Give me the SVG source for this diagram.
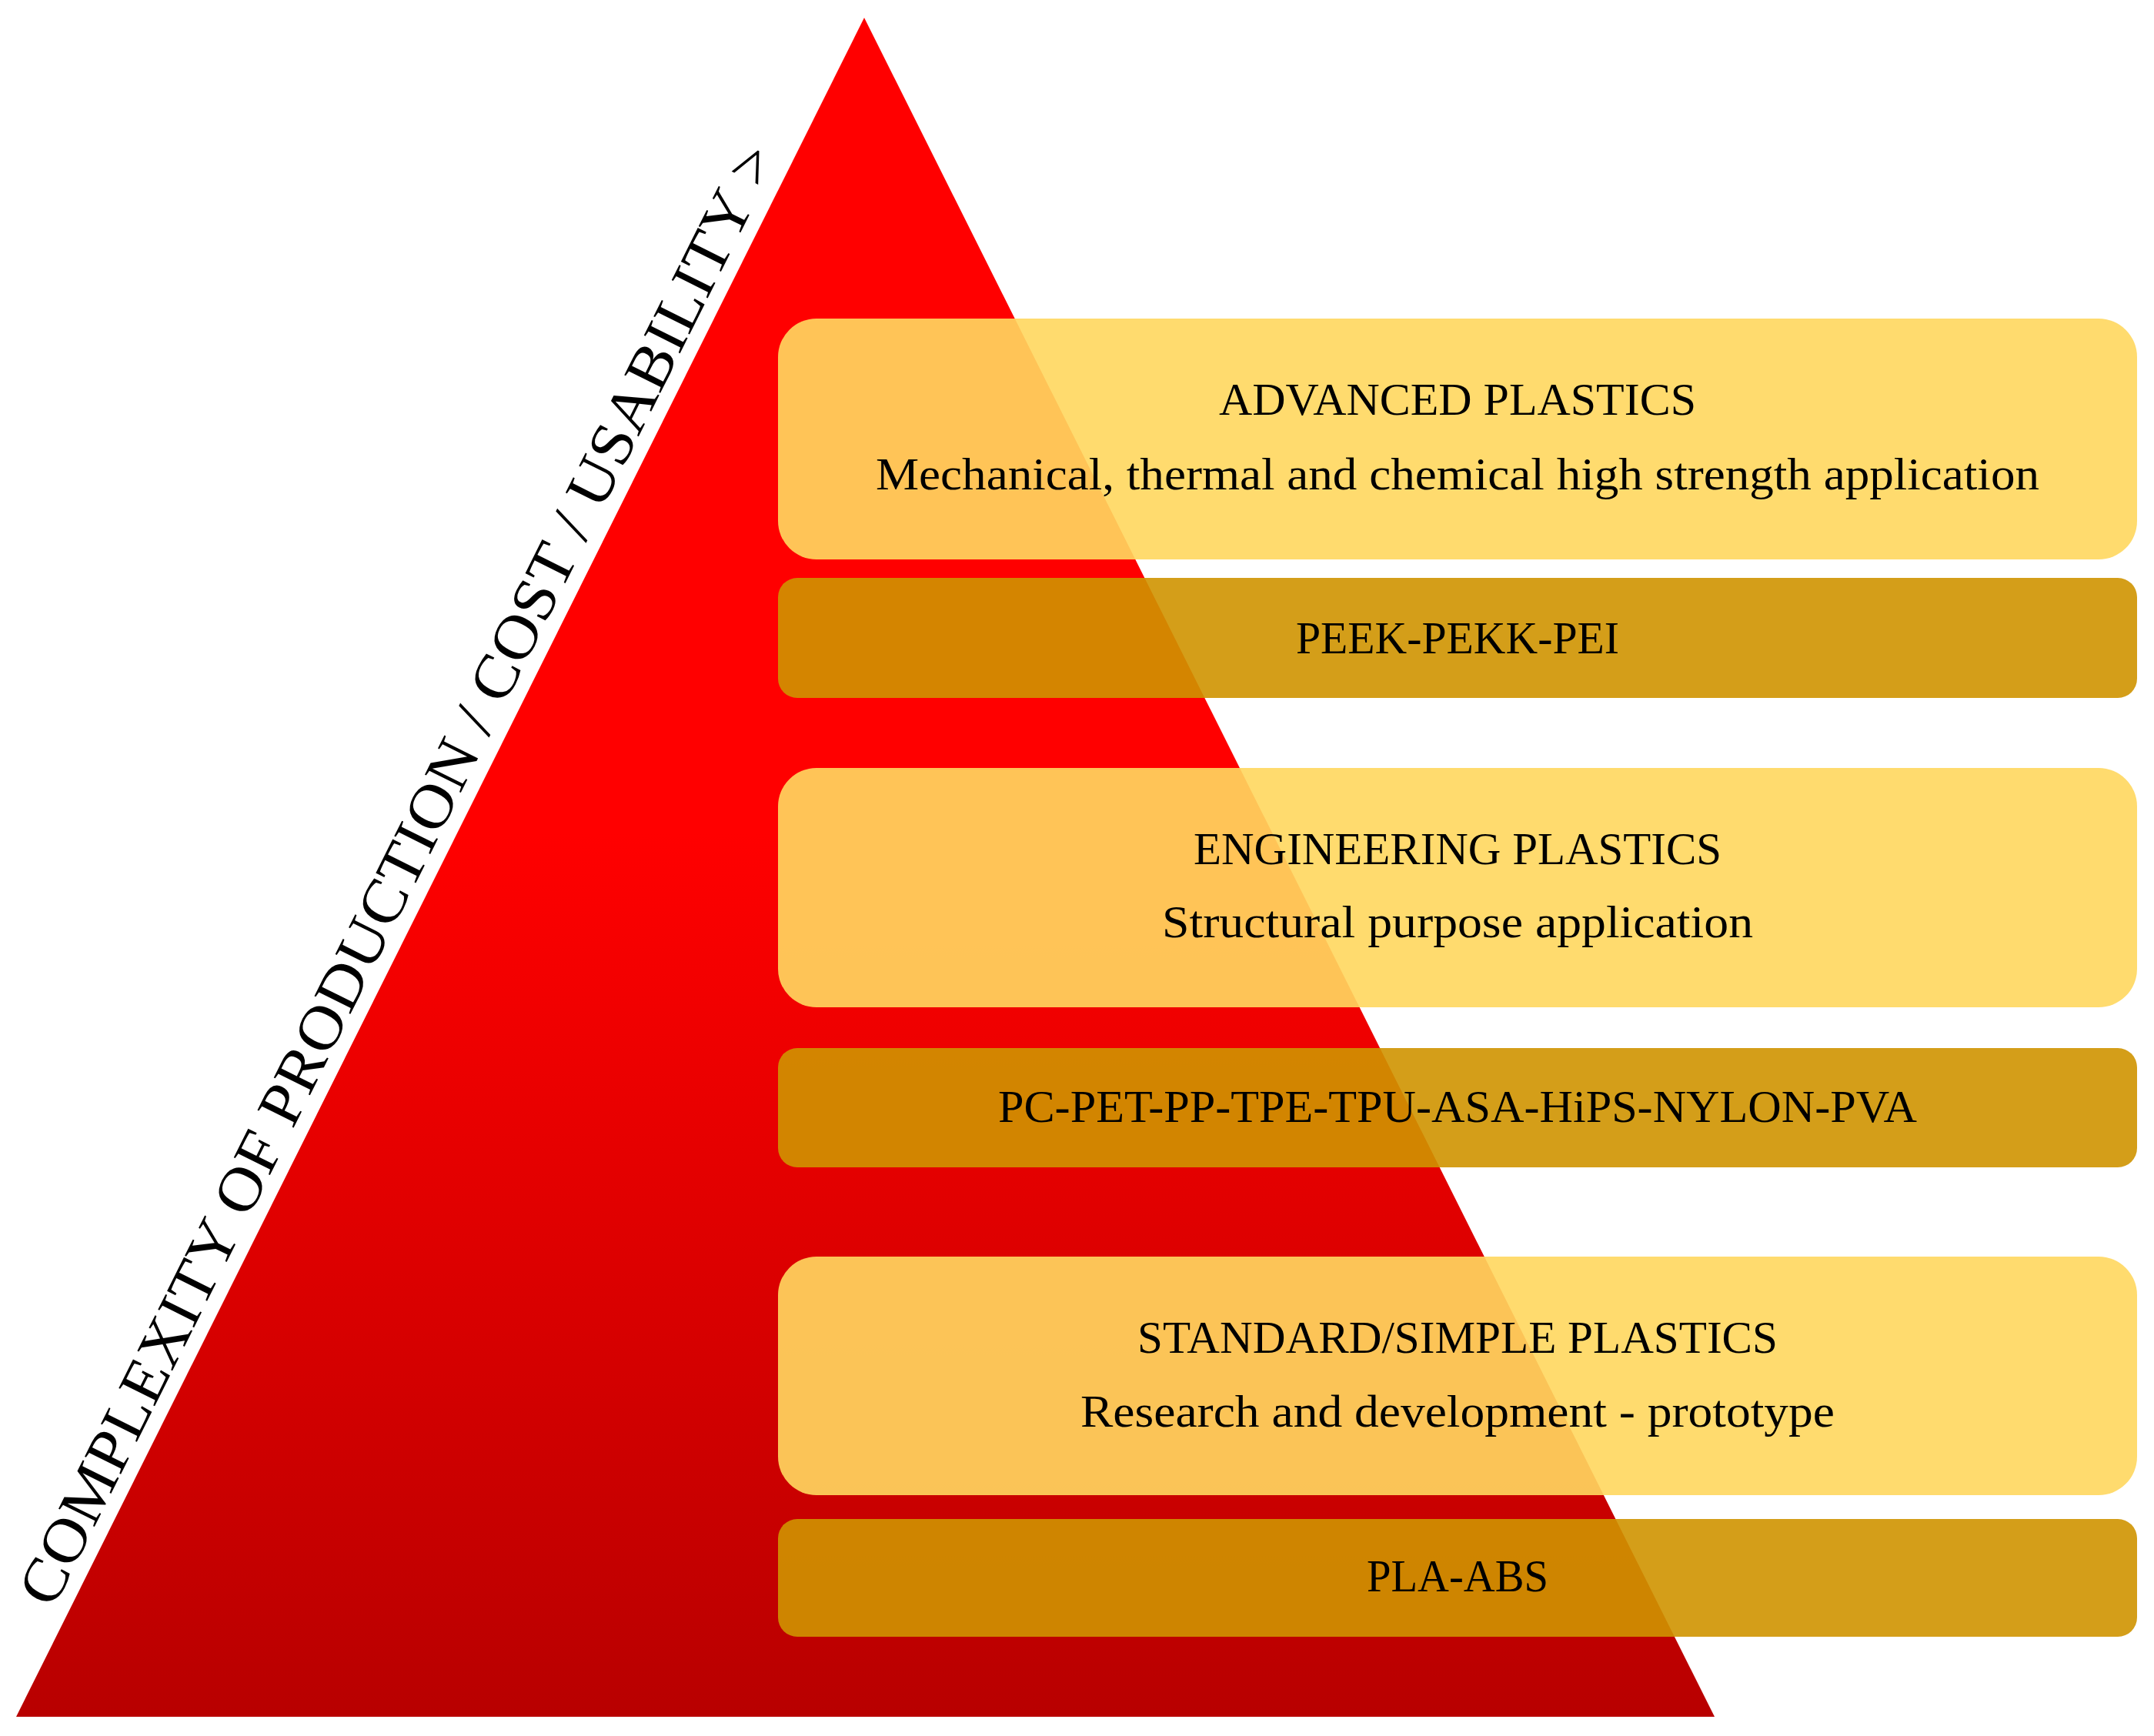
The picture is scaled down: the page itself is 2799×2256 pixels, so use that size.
<svg xmlns="http://www.w3.org/2000/svg" width="2799" height="2256" viewBox="0 0 2799 2256">
  <defs>
    <linearGradient id="redGrad" x1="0" y1="0" x2="0" y2="1">
      <stop offset="0" stop-color="#FF0000"/>
      <stop offset="0.48" stop-color="#FF0000"/>
      <stop offset="1" stop-color="#B80000"/>
    </linearGradient>
  </defs>
  <style>
    .light { fill: #FFD760; fill-opacity: 0.91; }
    .dark { fill: #CF9300; fill-opacity: 0.9; }
    .t { font-family: "Liberation Serif", "DejaVu Serif", serif; font-size: 59px; fill: #000; text-anchor: middle; }
    .axis { font-family: "Liberation Serif", "DejaVu Serif", serif; font-size: 80px; fill: #000; }
  </style>
  <rect x="0" y="0" width="2799" height="2256" fill="#FFFFFF"/>
  <g id="pyramid">
    <polygon points="1123,23 2228,2231 21,2231" fill="url(#redGrad)"/>
  </g>
  <g id="axis-label">
    <text class="axis" transform="translate(69,2092) rotate(-63.48)" textLength="2110" lengthAdjust="spacingAndGlyphs">COMPLEXITY OF PRODUCTION / COST / USABILITY &gt;</text>
  </g>
  <g id="advanced">
    <rect class="light" x="1011" y="414" width="1766" height="313" rx="50" ry="50"/>
    <text class="t" x="1894" y="539" textLength="620" lengthAdjust="spacingAndGlyphs">ADVANCED PLASTICS</text>
    <text class="t" x="1894" y="636" textLength="1512" lengthAdjust="spacingAndGlyphs">Mechanical, thermal and chemical high strength application</text>
  </g>
  <g id="advanced-materials">
    <rect class="dark" x="1011" y="751" width="1766" height="156" rx="25" ry="25"/>
    <text class="t" x="1894" y="849" textLength="420" lengthAdjust="spacingAndGlyphs">PEEK-PEKK-PEI</text>
  </g>
  <g id="engineering">
    <rect class="light" x="1011" y="998" width="1766" height="311" rx="50" ry="50"/>
    <text class="t" x="1894" y="1123" textLength="686" lengthAdjust="spacingAndGlyphs">ENGINEERING PLASTICS</text>
    <text class="t" x="1894" y="1218" textLength="768" lengthAdjust="spacingAndGlyphs">Structural purpose application</text>
  </g>
  <g id="engineering-materials">
    <rect class="dark" x="1011" y="1362" width="1766" height="155" rx="25" ry="25"/>
    <text class="t" x="1894" y="1458" textLength="1194" lengthAdjust="spacingAndGlyphs">PC-PET-PP-TPE-TPU-ASA-HiPS-NYLON-PVA</text>
  </g>
  <g id="standard">
    <rect class="light" x="1011" y="1633" width="1766" height="310" rx="50" ry="50"/>
    <text class="t" x="1894" y="1758" textLength="832" lengthAdjust="spacingAndGlyphs">STANDARD/SIMPLE PLASTICS</text>
    <text class="t" x="1894" y="1854" textLength="980" lengthAdjust="spacingAndGlyphs">Research and development - prototype</text>
  </g>
  <g id="standard-materials">
    <rect class="dark" x="1011" y="1974" width="1766" height="153" rx="25" ry="25"/>
    <text class="t" x="1894" y="2068" textLength="236" lengthAdjust="spacingAndGlyphs">PLA-ABS</text>
  </g>
</svg>
